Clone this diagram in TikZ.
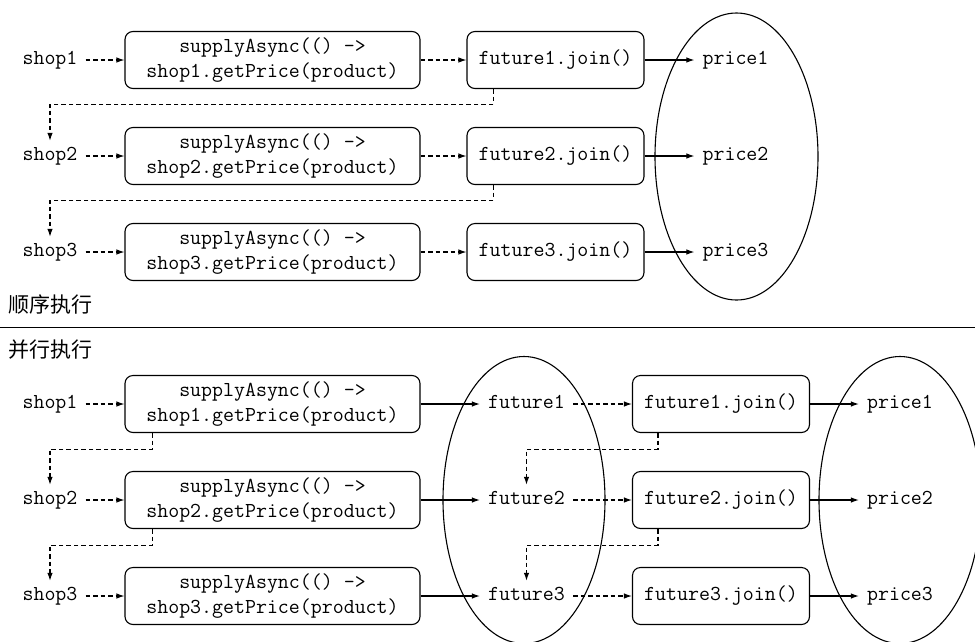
\documentclass[tikz,border=0pt]{standalone}
\usepackage{fontspec}
\newfontfamily\cjk{Noto Sans CJK SC}
\usetikzlibrary{arrows.meta}

\tikzset{
    code/.style={font=\ttfamily\fontsize{21.3}{25}\selectfont},
    callbox/.style={code, draw, rounded corners=8pt, line width=1.1pt, minimum width=295pt, minimum height=57pt, align=center, inner sep=0pt},
    joinbox/.style={code, draw, rounded corners=8pt, line width=1.1pt, minimum width=177pt, minimum height=57pt, inner sep=0pt},
    val/.style={code, inner xsep=8pt, inner ysep=0pt, text height=12pt, text depth=3pt, minimum height=30pt},
    sendarrow/.style={-{Latex[length=8pt,width=5.5pt]}, line width=1.1pt},
    waitarrow/.style={sendarrow, dash pattern=on 4.5pt off 3pt},
    heading/.style={font=\cjk\fontsize{21}{25}\selectfont, anchor=west, inner sep=0pt},
    group/.style={line width=1.1pt}
}

\begin{document}
\begin{tikzpicture}[x=1pt, y=-1pt]
    \useasboundingbox (0,0) rectangle (975,641);

    % sequential
    \node[val] (s1) at (50,60) {shop1};
    \node[val] (s2) at (50,156) {shop2};
    \node[val] (s3) at (50,252) {shop3};
    \node[callbox] (sa1) at (272.5,60) {supplyAsync(() ->\\shop1.getPrice(product)};
    \node[callbox] (sa2) at (272.5,156) {supplyAsync(() ->\\shop2.getPrice(product)};
    \node[callbox] (sa3) at (272.5,252) {supplyAsync(() ->\\shop3.getPrice(product)};
    \node[joinbox] (sj1) at (555.5,60) {future1.join()};
    \node[joinbox] (sj2) at (555.5,156) {future2.join()};
    \node[joinbox] (sj3) at (555.5,252) {future3.join()};
    \node[val] (sp1) at (735.5,60) {price1};
    \node[val] (sp2) at (735.5,156) {price2};
    \node[val] (sp3) at (735.5,252) {price3};

    \draw[waitarrow] (s1) -- (sa1);
    \draw[waitarrow] (s2) -- (sa2);
    \draw[waitarrow] (s3) -- (sa3);
    \draw[waitarrow] (sa1) -- (sj1);
    \draw[waitarrow] (sa2) -- (sj2);
    \draw[waitarrow] (sa3) -- (sj3);
    \draw[sendarrow] (sj1) -- (sp1);
    \draw[sendarrow] (sj2) -- (sp2);
    \draw[sendarrow] (sj3) -- (sp3);
    \draw[waitarrow] ([xshift=27pt]sj1.south west) -- ++(0,15) -| (s2.north);
    \draw[waitarrow] ([xshift=27pt]sj2.south west) -- ++(0,15) -| (s3.north);

    \draw[group] (736.5,156.5) ellipse [x radius=81.5, y radius=143.5];

    \node[heading] (seqlabel) at (8,305) {顺序执行};
    \draw[line width=1pt] (0,327) -- (975,327);
    \node[heading] (parlabel) at (8,350) {并行执行};

    % parallel
    \node[val] (ps1) at (50,404) {shop1};
    \node[val] (ps2) at (50,500) {shop2};
    \node[val] (ps3) at (50,596) {shop3};
    \node[callbox] (pa1) at (272.5,404) {supplyAsync(() ->\\shop1.getPrice(product)};
    \node[callbox] (pa2) at (272.5,500) {supplyAsync(() ->\\shop2.getPrice(product)};
    \node[callbox] (pa3) at (272.5,596) {supplyAsync(() ->\\shop3.getPrice(product)};
    \node[val] (pf1) at (526.5,404) {future1};
    \node[val] (pf2) at (526.5,500) {future2};
    \node[val] (pf3) at (526.5,596) {future3};
    \node[joinbox] (pj1) at (721,404) {future1.join()};
    \node[joinbox] (pj2) at (721,500) {future2.join()};
    \node[joinbox] (pj3) at (721,596) {future3.join()};
    \node[val] (pp1) at (900,404) {price1};
    \node[val] (pp2) at (900,500) {price2};
    \node[val] (pp3) at (900,596) {price3};

    \draw[waitarrow] (ps1) -- (pa1);
    \draw[waitarrow] (ps2) -- (pa2);
    \draw[waitarrow] (ps3) -- (pa3);
    \draw[sendarrow] (pa1) -- (pf1);
    \draw[sendarrow] (pa2) -- (pf2);
    \draw[sendarrow] (pa3) -- (pf3);
    \draw[waitarrow] (pf1) -- (pj1);
    \draw[waitarrow] (pf2) -- (pj2);
    \draw[waitarrow] (pf3) -- (pj3);
    \draw[sendarrow] (pj1) -- (pp1);
    \draw[sendarrow] (pj2) -- (pp2);
    \draw[sendarrow] (pj3) -- (pp3);
    \draw[waitarrow] ([xshift=28pt]pa1.south west) -- ++(0,16) -| (ps2.north);
    \draw[waitarrow] ([xshift=28pt]pa2.south west) -- ++(0,16) -| (ps3.north);
    \draw[waitarrow] ([xshift=26pt]pj1.south west) -- ++(0,16) -| (pf2.north);
    \draw[waitarrow] ([xshift=26pt]pj2.south west) -- ++(0,16) -| (pf3.north);

    \draw[group] (524,500) ellipse [x radius=81, y radius=143.5];
    \draw[group] (900,500) ellipse [x radius=81, y radius=143.5];
\end{tikzpicture}
\end{document}
